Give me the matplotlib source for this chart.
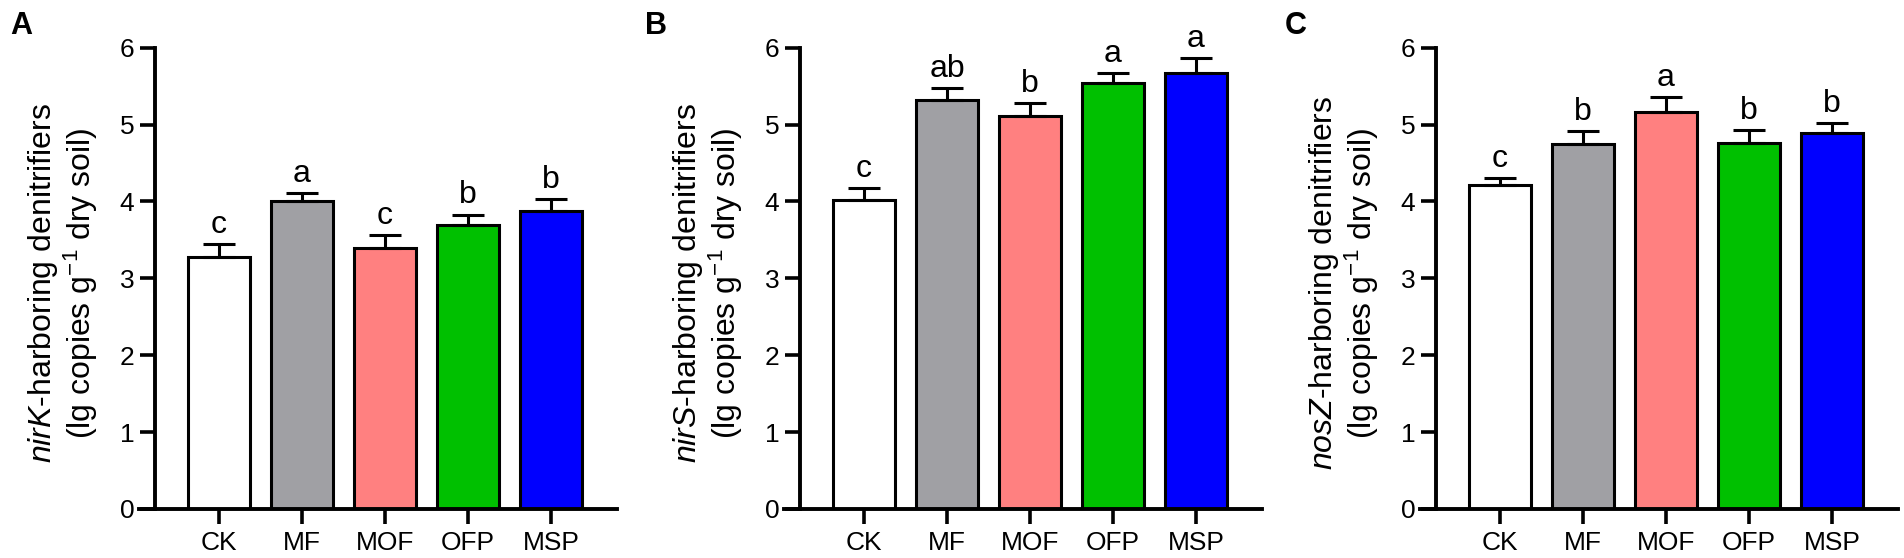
import numpy as np
import matplotlib
matplotlib.use('Agg')
import matplotlib.pyplot as plt

plt.rcParams['font.family'] = ['Liberation Sans', 'DejaVu Sans']
plt.rcParams['mathtext.fontset'] = 'custom'
plt.rcParams['mathtext.rm'] = 'Liberation Sans'
plt.rcParams['mathtext.it'] = 'Liberation Sans:italic'

treatments = ['CK', 'MF', 'MOF', 'OFP', 'MSP']
bar_colors = ['#ffffff', '#a0a0a4', '#ff8080', '#00c000', '#0000ff']

nirk_mean = [3.28, 4.00, 3.40, 3.69, 3.87]
nirk_err = [0.17, 0.11, 0.16, 0.14, 0.16]
nirk_letters = ['c', 'a', 'c', 'b', 'b']

nirs_mean = [4.02, 5.32, 5.11, 5.54, 5.67]
nirs_err = [0.15, 0.16, 0.17, 0.13, 0.20]
nirs_letters = ['c', 'ab', 'b', 'a', 'a']

nosz_mean = [4.22, 4.75, 5.17, 4.76, 4.885]
nosz_err = [0.09, 0.17, 0.19, 0.17, 0.135]
nosz_letters = ['c', 'b', 'a', 'b', 'b']

panels = [
    ('A', 'nirK', nirk_mean, nirk_err, nirk_letters),
    ('B', 'nirS', nirs_mean, nirs_err, nirs_letters),
    ('C', 'nosZ', nosz_mean, nosz_err, nosz_letters),
]

W, H = 1904, 558
fig = plt.figure(figsize=(W / 100, H / 100), dpi=100)

# pixel layout of each panel (left edge of x axis) and panel-letter x
ax_left_px = [139, 784, 1420]
letter_x_px = [10, 645, 1285]
ax_w_px = 478
y0_px, y6_px = 509, 47.7
spacing = 83.0

x = np.arange(len(treatments))
xlim = (-80 / spacing, 398 / spacing)
yaxis_pos = -64 / spacing

for i, (tag, gene, mean, err, letters) in enumerate(panels):
    ax = fig.add_axes([ax_left_px[i] / W, (H - y0_px) / H,
                       ax_w_px / W, (y0_px - y6_px) / H])
    ax.bar(x, mean, width=62 / spacing, color=bar_colors,
           edgecolor='black', linewidth=2.2, zorder=2)
    ax.errorbar(x, mean, yerr=[np.zeros(len(err)), err], fmt='none',
                ecolor='black', elinewidth=2.2, capsize=11.5, capthick=2.2,
                zorder=3)
    for xi, m, e, lab in zip(x, mean, err, letters):
        ax.annotate(lab, (xi, m + e), xytext=(0, 8), textcoords='offset points',
                    ha='center', va='baseline', fontsize=23)

    ax.set_xlim(*xlim)
    ax.set_ylim(0, 6)
    ax.set_yticks(range(7))
    ax.set_xticks(x)
    ax.set_xticklabels(treatments)
    ax.spines['left'].set_position(('data', yaxis_pos))
    ax.spines['top'].set_visible(False)
    ax.spines['right'].set_visible(False)
    for s in ('left', 'bottom'):
        ax.spines[s].set_linewidth(2.8)
        ax.spines[s].set_capstyle('projecting')
    ax.tick_params(axis='both', direction='out', length=10.8, width=2.6,
                   labelsize=19)
    ax.tick_params(axis='y', pad=4)
    ax.tick_params(axis='x', pad=5)

    ax.set_ylabel('$\\it{' + gene + '}$-harboring denitrifiers\n'
                  '(lg copies g$^{-1}$ dry soil)',
                  fontsize=23, linespacing=1.05)
    ax.yaxis.set_label_coords((100 - ax_left_px[0]) / ax_w_px, 0.49)

    fig.text(letter_x_px[i] / W, (H - 34) / H, tag, fontsize=22,
             fontweight='bold', va='baseline', ha='left')

fig.savefig('out.png', dpi=100)
